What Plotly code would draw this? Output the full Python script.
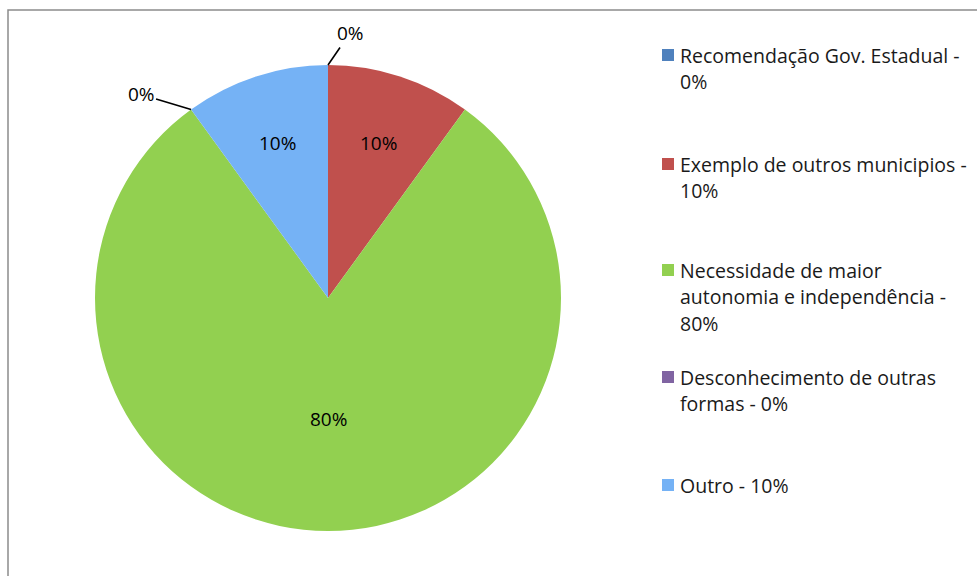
import math
import plotly.graph_objects as go

# Data
categories = [
    "Recomendação Gov. Estadual",
    "Exemplo de outros municipios",
    "Necessidade de maior autonomia e independência",
    "Desconhecimento de outras formas",
    "Outro",
]
values = [0, 10, 80, 0, 10]

# Legend text, wrapped per entry ("{p}" is replaced by the percentage)
legend_lines = [
    ["Recomendação Gov. Estadual -", "{p}%"],
    ["Exemplo de outros municipios -", "{p}%"],
    ["Necessidade de maior", "autonomia e independência -", "{p}%"],
    ["Desconhecimento de outras", "formas - {p}%"],
    ["Outro - {p}%"],
]

# Styling
colors = ["#4F81BD", "#C0504D", "#92D050", "#8064A2", "#75B2F5"]
FONT = "Open Sans"
W, H = 977, 576
CX, CY, R = 328, 298, 233          # pie centre / radius in pixels
label_r = [None, 0.70, 0.52, None, 0.70]   # radial position of inside labels
zero_offsets = {0: (22, -32), 3: (-50, -15)}  # leader-line offsets for 0% labels
legend_y = [55, 164, 270, 377, 485]
legend_x_marker, legend_x_text = 662, 678
line_gap = 26.5
label_size = 19
legend_size = 19.5


def px(x):
    return x / W


def py(y):
    return 1 - y / H


fig = go.Figure()
fig.add_trace(go.Pie(
    labels=categories,
    values=values,
    sort=False,
    direction="clockwise",
    rotation=0,
    marker=dict(colors=colors, line=dict(width=0)),
    textinfo="none",
    showlegend=False,
    domain=dict(x=[px(CX - R), px(CX + R)], y=[py(CY + R), py(CY - R)]),
))

annotations = []
shapes = []
total = sum(values)
cum = 0
for i, v in enumerate(values):
    start = cum / total * 360
    mid = (cum + v / 2) / total * 360
    cum += v
    pct = f"{round(v / total * 100)}%"
    if v == 0:
        a = math.radians(start)
        ex = CX + R * math.sin(a)
        ey = CY - R * math.cos(a)
        ax, ay = zero_offsets[i]
        annotations.append(dict(
            x=px(ex), y=py(ey), xref="paper", yref="paper",
            text=pct, showarrow=True, arrowhead=0, arrowwidth=1.6,
            arrowcolor="#000000", ax=ax, ay=ay, standoff=0,
            font=dict(family=FONT, size=label_size, color="#000000"),
        ))
    else:
        a = math.radians(mid)
        lx = CX + label_r[i] * R * math.sin(a)
        ly = CY - label_r[i] * R * math.cos(a)
        annotations.append(dict(
            x=px(lx), y=py(ly), xref="paper", yref="paper",
            xanchor="center", yanchor="middle",
            text=pct, showarrow=False,
            font=dict(family=FONT, size=label_size, color="#000000"),
        ))

# Legend drawn as swatches + text
for i, (lines, v) in enumerate(zip(legend_lines, values)):
    y0 = legend_y[i]
    shapes.append(dict(
        type="rect", xref="paper", yref="paper",
        x0=px(legend_x_marker), x1=px(legend_x_marker + 12),
        y0=py(y0 + 6), y1=py(y0 - 6),
        fillcolor=colors[i], line=dict(width=0),
    ))
    for k, line in enumerate(lines):
        annotations.append(dict(
            x=px(legend_x_text), y=py(y0 + k * line_gap),
            xref="paper", yref="paper", xanchor="left", yanchor="middle",
            text=line.replace("{p}", str(v)), showarrow=False,
            font=dict(family=FONT, size=legend_size, color="#1a1a1a"),
        ))

# Chart frame
shapes.append(dict(
    type="rect", xref="paper", yref="paper",
    x0=px(8), x1=px(W + 20), y0=py(H + 20), y1=py(10),
    line=dict(color="#8c8c8c", width=1.5), fillcolor="rgba(0,0,0,0)",
))

fig.update_layout(
    width=W, height=H,
    margin=dict(l=0, r=0, t=0, b=0),
    paper_bgcolor="white",
    plot_bgcolor="white",
    annotations=annotations,
    shapes=shapes,
)

fig.write_html("out.html")
